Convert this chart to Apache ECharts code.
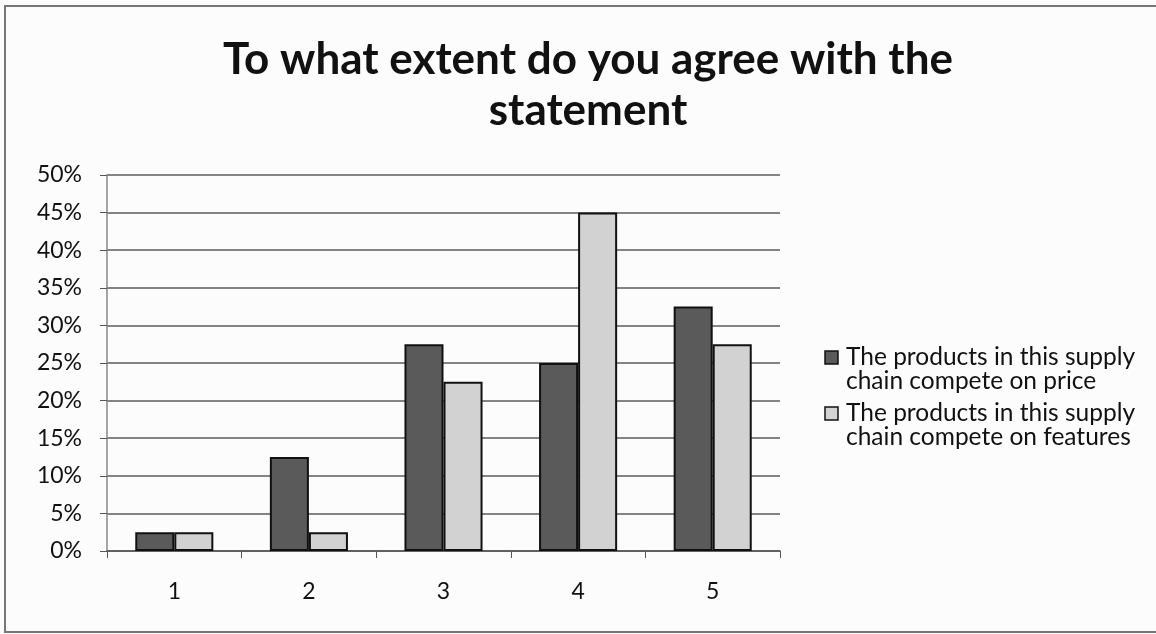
<!DOCTYPE html>
<html><head><meta charset="utf-8">
<script src="https://cdn.jsdelivr.net/npm/echarts@6/dist/echarts.min.js"></script>
<style>html,body{margin:0;padding:0;background:#fff}#c{width:1156px;height:634px}</style>
</head><body><div id="c"></div>
<script>
const categories = ['1','2','3','4','5'];
const priceValues = [2.5, 12.5, 27.5, 25, 32.5];
const featureValues = [2.5, 2.5, 22.5, 45, 27.5];
const seriesNames = ['The products in this supply\nchain compete on price', 'The products in this supply\nchain compete on features'];
const seriesColors = ['#5a5a5a', '#d2d2d2'];
const yTicks = [0, 5, 10, 15, 20, 25, 30, 35, 40, 45, 50];
const FONT = 'Lato, "Open Sans", sans-serif';
const chart = echarts.init(document.getElementById('c'), null, {renderer:'canvas'});
const legendGraphics = [];
seriesNames.forEach((n, i) => {
  const y0 = 351 + i * 56;
  legendGraphics.push({type:'rect', shape:{x:825, y:y0, width:13, height:13}, style:{fill:seriesColors[i], stroke:'#111', lineWidth:1.5}, silent:true});
  legendGraphics.push({type:'text', x:846, y:y0 - 6, style:{text:n, fontFamily:FONT, fontSize:24.5, lineHeight:24, fill:'#111', textVerticalAlign:'top'}, silent:true});
});
chart.setOption({
  backgroundColor:'#fcfcfc',
  animation:false,
  title:{text:'To what extent do you agree with the\nstatement', left:583, textAlign:'center', top:29,
    textStyle:{fontFamily:FONT, fontWeight:'bold', fontSize:44, lineHeight:51, color:'#111'}},
  graphic:[{type:'rect', shape:{x:5,y:6,width:1160,height:626}, style:{fill:'none', stroke:'#777', lineWidth:2}, silent:true}].concat(legendGraphics),
  grid:{left:107, right:376, top:175, bottom:83, containLabel:false},
  legend:{show:false},
  xAxis:{type:'category', data:categories,
    axisLine:{lineStyle:{color:'#555', width:1.5}},
    axisTick:{show:true, length:7, alignWithLabel:false, lineStyle:{color:'#555'}},
    axisLabel:{fontFamily:FONT, fontSize:23, color:'#111', margin:29}},
  yAxis:{type:'value', min:0, max:50, interval:5,
    axisLine:{show:true, lineStyle:{color:'#888', width:1.5}},
    axisTick:{show:true, length:7, lineStyle:{color:'#555'}},
    splitLine:{lineStyle:{color:'#5c5c5c', width:1.5}},
    axisLabel:{fontFamily:FONT, fontSize:23, color:'#111', margin:25, formatter: v => yTicks.includes(v) ? v + '%' : ''}},
  series:[
    {name:seriesNames[0], type:'bar', data:priceValues, barCategoryGap:'42%', barGap:'0%',
      itemStyle:{color:seriesColors[0], borderColor:'#111', borderWidth:2}},
    {name:seriesNames[1], type:'bar', data:featureValues, barCategoryGap:'42%', barGap:'0%',
      itemStyle:{color:seriesColors[1], borderColor:'#111', borderWidth:2}}
  ]
});
</script></body></html>
